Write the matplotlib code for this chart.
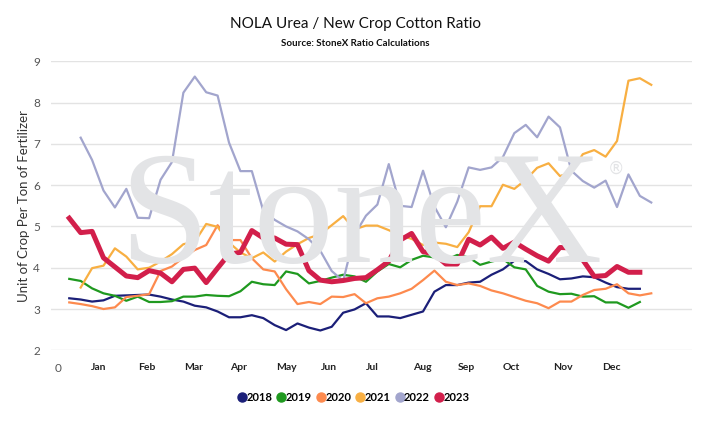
import matplotlib
matplotlib.use("Agg")
import matplotlib.pyplot as plt
from matplotlib.lines import Line2D

# weekly ratios (week number -> value)
weeks_2018 = list(range(1, 52))
ratio_2018 = [3.26, 3.23, 3.18, 3.21, 3.32, 3.33, 3.34, 3.35, 3.30, 3.23,
              3.18, 3.08, 3.04, 2.94, 2.80, 2.80, 2.85, 2.78, 2.61, 2.49,
              2.65, 2.55, 2.48, 2.57, 2.91, 2.99, 3.14, 2.82, 2.82, 2.78,
              2.86, 2.94, 3.42, 3.58, 3.58, 3.64, 3.66, 3.83, 3.96, 4.17,
              4.16, 3.96, 3.85, 3.72, 3.74, 3.79, 3.77, 3.64, 3.53, 3.49, 3.49]

weeks_2019 = list(range(1, 52))
ratio_2019 = [3.73, 3.68, 3.50, 3.38, 3.32, 3.20, 3.30, 3.17, 3.17, 3.19,
              3.30, 3.30, 3.34, 3.32, 3.31, 3.43, 3.66, 3.60, 3.58, 3.91,
              3.85, 3.62, 3.68, 3.76, 3.83, 3.79, 3.66, 3.91, 4.09, 4.01,
              4.19, 4.29, 4.25, 4.19, 4.31, 4.25, 4.07, 4.15, 4.21, 4.01,
              3.96, 3.56, 3.42, 3.36, 3.37, 3.30, 3.31, 3.16, 3.16, 3.03, 3.17]

weeks_2020 = list(range(1, 53))
ratio_2020 = [3.16, 3.12, 3.07, 3.00, 3.04, 3.29, 3.32, 3.36, 3.92, 4.03,
              4.25, 4.43, 4.55, 5.03, 4.67, 4.67, 4.23, 3.96, 3.91, 3.48,
              3.12, 3.17, 3.12, 3.30, 3.29, 3.36, 3.14, 3.26, 3.30, 3.38,
              3.49, 3.70, 3.93, 3.66, 3.58, 3.62, 3.56, 3.45, 3.38, 3.29,
              3.20, 3.14, 3.02, 3.18, 3.18, 3.34, 3.46, 3.49, 3.60, 3.38,
              3.33, 3.38]

weeks_2021 = list(range(2, 53))
ratio_2021 = [3.52, 3.99, 4.05, 4.47, 4.27, 3.96, 4.00, 4.15, 4.33,
              4.57, 4.63, 5.06, 4.99, 4.61, 4.37, 4.23, 4.37, 4.15, 4.39,
              4.57, 4.72, 4.81, 5.03, 5.25, 4.93, 5.02, 5.02, 4.91, 4.78,
              4.70, 4.55, 4.61, 4.58, 4.50, 4.86, 5.49, 5.49, 6.01, 5.91,
              6.13, 6.42, 6.53, 6.22, 6.31, 6.75, 6.85, 6.69, 7.07, 8.53,
              8.59, 8.43]

weeks_2022 = list(range(2, 53))
ratio_2022 = [7.15, 6.61, 5.87, 5.46, 5.91, 5.21, 5.20, 6.13, 6.56,
              8.24, 8.63, 8.25, 8.17, 7.03, 6.34, 6.34, 5.38, 5.16, 5.00,
              4.88, 4.69, 4.41, 3.92, 3.68, 4.80, 5.26, 5.53, 6.51, 5.50,
              5.47, 6.35, 5.48, 4.98, 5.60, 6.43, 6.37, 6.43, 6.68, 7.26,
              7.46, 7.16, 7.66, 7.40, 6.35, 6.10, 5.94, 6.11, 5.47, 6.26,
              5.74, 5.58]

weeks_2023 = list(range(1, 52))
ratio_2023 = [5.20, 4.85, 4.88, 4.24, 4.02, 3.80, 3.76, 3.93, 3.87, 3.66,
              3.96, 3.99, 3.64, 3.99, 4.33, 4.37, 4.90, 4.72, 4.72, 4.57,
              4.56, 3.93, 3.70, 3.66, 3.69, 3.74, 3.76, 3.95, 4.16, 4.67,
              4.83, 4.39, 4.33, 4.09, 4.09, 4.69, 4.55, 4.74, 4.47, 4.62,
              4.45, 4.29, 4.16, 4.49, 4.48, 4.19, 3.79, 3.81, 4.03, 3.89, 3.89]

month_pos = [3.6, 7.8, 11.9, 15.8, 20.0, 23.8, 27.6, 31.9, 35.8, 39.7, 44.3, 48.5]
month_labels = ["Jan", "Feb", "Mar", "Apr", "May", "Jun",
                "Jul", "Aug", "Sep", "Oct", "Nov", "Dec"]

series = [
    ("2018", weeks_2018, ratio_2018, "#1b1f78", 1.6),
    ("2019", weeks_2019, ratio_2019, "#1f991f", 1.6),
    ("2020", weeks_2020, ratio_2020, "#fd8a4e", 1.6),
    ("2021", weeks_2021, ratio_2021, "#f8af42", 1.6),
    ("2022", weeks_2022, ratio_2022, "#a2a5cd", 1.6),
    ("2023", weeks_2023, ratio_2023, "#d21f4b", 3.6),
]

plt.rcParams['font.family'] = ['Lato', 'DejaVu Sans']

W, H = 715, 429
fig = plt.figure(figsize=(W / 100, H / 100), dpi=100)
ax = fig.add_axes([51 / W, 1 - 350.3 / H, (692 - 51) / W, (350.3 - 61.3) / H])

# big StoneX watermark behind the lines
fig.text(361 / W, 1 - 262 / H, "StoneX", family="Liberation Serif",
         fontsize=116, color="#e3e4e6", ha="center", va="baseline", zorder=0)
fig.text(616 / W, 1 - 169 / H, "\u00ae", family="DejaVu Sans",
         fontsize=12, color="#e3e4e6", ha="center", va="center", zorder=0)
ax.patch.set_alpha(0)

for name, wk, vals, col, lw in series:
    ax.plot(wk, vals, color=col, lw=lw, solid_joinstyle="round", zorder=3)

ax.set_xlim(-0.6, 55.57)
ax.set_ylim(2, 9)
ax.set_yticks(range(2, 10))
ax.grid(axis="y", color="#e3e3e3", lw=1)
ax.set_axisbelow(True)
for s in ax.spines.values():
    s.set_visible(False)

ax.set_xticks(month_pos)
ax.set_xticklabels(month_labels, fontweight="bold", fontsize=7.5, color="#222222")
ax.tick_params(axis="x", length=0, pad=9)
ax.tick_params(axis="y", length=0, pad=8, labelsize=8.5, labelcolor="#555555")
ax.text(0, -0.045, "0", transform=ax.get_xaxis_transform(), ha="center",
        va="top", fontsize=8.5, color="#555555")

ax.set_ylabel("Unit of Crop Per Ton of Fertilizer", fontsize=9.5, color="#333333",
              labelpad=2)

fig.text(355 / W, 1 - 24 / H, "NOLA Urea / New Crop Cotton Ratio",
         ha="center", va="center", fontsize=11, color="#111111")
fig.text(355 / W, 1 - 43 / H, "Source: StoneX Ratio Calculations",
         ha="center", va="center", fontsize=7, fontweight="bold", color="#111111")

handles = [Line2D([], [], ls="none", marker="o", markersize=6.5, color=c)
           for _, _, _, c, _ in series]
fig.legend(handles, [s[0] for s in series], loc="center",
           bbox_to_anchor=(353 / W, 1 - 397.7 / H), ncol=6, frameon=False,
           handletextpad=-0.1, columnspacing=0.3, handlelength=1.0,
           prop={"weight": "bold", "size": 8})

plt.savefig("out.png", dpi=100)
